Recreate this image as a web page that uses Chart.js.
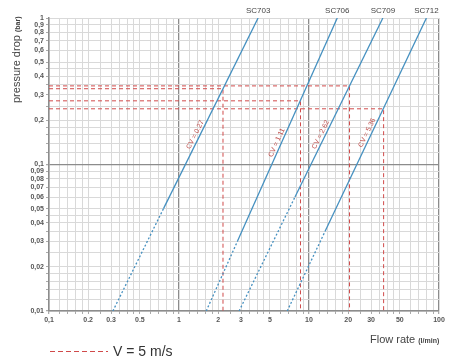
<!DOCTYPE html>
<html>
<head>
<meta charset="utf-8">
<script src="https://cdn.jsdelivr.net/npm/chart.js@4"></script>
<style>html,body{margin:0;padding:0;background:#fff}</style>
</head>
<body>
<canvas id="chart" width="454" height="360"></canvas>
<script>
// models and their CV values
const models = ['SC703', 'SC706', 'SC709', 'SC712'];
const cvLabels = ['CV = 0.27', 'CV = 1.11', 'CV = 2.62', 'CV = 5.36'];

// flow (l/min) at 0.01 bar, where the solid part starts, and at 1 bar
const flowAtMin = [0.31, 1.62, 2.9, 6.8];
const flowSolidFrom = [0.76, 2.82, 7.8, 13.3];
const dropSolidFrom = [0.05, 0.03, 0.06, 0.035];
const flowAtMax = [4.06, 16.5, 37, 80];

// V = 5 m/s points
const v5Flow = [2.18, 8.6, 20.5, 37.5];
const v5Drop = [0.329, 0.272, 0.344, 0.24];
const cvLabelDrop = [0.155, 0.137, 0.155, 0.16];

const flowMin = 0.1, flowMax = 100, dropMin = 0.01, dropMax = 1;
const gridSteps = [1, 1.2, 1.4, 1.6, 1.8, 2, 2.5, 3, 3.5, 4, 4.5, 5, 6, 7, 8, 9];
const xLabeled = [0.1, 0.2, 0.3, 0.5, 1, 2, 3, 5, 10, 20, 30, 50, 100];
const yLabeled = [1, 0.9, 0.8, 0.7, 0.6, 0.5, 0.4, 0.3, 0.2, 0.1, 0.09, 0.08, 0.07, 0.06, 0.05, 0.04, 0.03, 0.02, 0.01];

const BLUE = '#4590c0';
const RED = '#d04a4a';
const FONT = "'Liberation Sans', Arial, sans-serif";

function gridValues(min, max) {
    const out = [];
    for (let d = min; d < max * 0.999; d *= 10) {
        for (const s of gridSteps) out.push(+(s * d).toPrecision(6));
    }
    out.push(max);
    return out;
}
function isDecade(v) {
    const l = Math.log10(v);
    return Math.abs(l - Math.round(l)) < 1e-6;
}
function xLabel(v) {
    if (!xLabeled.some(l => Math.abs(l - v) < 1e-9)) return '';
    return v === 0.1 ? '0,1' : String(v);
}
function yLabel(v) {
    if (!yLabeled.some(l => Math.abs(l - v) < 1e-9)) return '';
    return String(v).replace('.', ',');
}

const datasets = [];
models.forEach((m, i) => {
    datasets.push({
        label: m,
        data: [
            {x: flowAtMin[i], y: dropMin},
            {x: flowSolidFrom[i], y: dropSolidFrom[i]},
            {x: flowAtMax[i], y: dropMax}
        ],
        borderColor: BLUE,
        borderWidth: 1.3,
        pointRadius: 0,
        showLine: true,
        order: 0,
        segment: {borderDash: ctx => ctx.p0DataIndex === 0 ? [2, 2] : []}
    });
    datasets.push({
        label: 'V = 5 m/s',
        data: [
            {x: flowMin, y: v5Drop[i]},
            {x: v5Flow[i], y: v5Drop[i]},
            {x: v5Flow[i], y: dropMin}
        ],
        borderColor: RED,
        borderWidth: 1,
        borderDash: [4, 3],
        pointRadius: 0,
        showLine: true,
        order: 1
    });
});

const textPlugin = {
    id: 'texts',
    afterDraw(chart) {
        const ctx = chart.ctx;
        const xs = chart.scales.x, ys = chart.scales.y;
        ctx.save();

        // model names above the lines
        ctx.fillStyle = '#444';
        ctx.font = '8px ' + FONT;
        ctx.textAlign = 'center';
        ctx.textBaseline = 'alphabetic';
        models.forEach((m, i) => {
            ctx.fillText(m, xs.getPixelForValue(flowAtMax[i]), ys.top - 5);
        });

        // CV labels along each line
        ctx.fillStyle = '#c0504d';
        ctx.font = '7px ' + FONT;
        models.forEach((m, i) => {
            const x0 = xs.getPixelForValue(flowAtMin[i]), y0 = ys.getPixelForValue(dropMin);
            const x1 = xs.getPixelForValue(flowAtMax[i]), y1 = ys.getPixelForValue(dropMax);
            const py = ys.getPixelForValue(cvLabelDrop[i]);
            const t = (py - y0) / (y1 - y0);
            const px = x0 + t * (x1 - x0);
            ctx.save();
            ctx.translate(px, py);
            ctx.rotate(Math.atan2(y1 - y0, x1 - x0));
            ctx.fillText(cvLabels[i], 0, -2.5);
            ctx.restore();
        });

        // y axis title
        ctx.save();
        ctx.translate(20, 103);
        ctx.rotate(-Math.PI / 2);
        ctx.textAlign = 'left';
        ctx.fillStyle = '#444';
        ctx.font = '11px ' + FONT;
        ctx.fillText('pressure drop', 0, 0);
        const w = ctx.measureText('pressure drop ').width;
        ctx.font = 'bold 7px ' + FONT;
        ctx.fillText('(bar)', w, 0);
        ctx.restore();

        // x axis title
        ctx.textAlign = 'left';
        ctx.fillStyle = '#444';
        ctx.font = '11px ' + FONT;
        ctx.fillText('Flow rate', 370, 343);
        const w2 = ctx.measureText('Flow rate ').width;
        ctx.font = 'bold 7px ' + FONT;
        ctx.fillText('(l/min)', 370 + w2, 343);

        // legend
        ctx.strokeStyle = RED;
        ctx.lineWidth = 1;
        ctx.setLineDash([5, 3]);
        ctx.beginPath();
        ctx.moveTo(50, 351.5);
        ctx.lineTo(108, 351.5);
        ctx.stroke();
        ctx.setLineDash([]);
        ctx.fillStyle = '#333';
        ctx.font = '14px ' + FONT;
        ctx.fillText('V = 5 m/s', 113, 356);

        ctx.restore();
    }
};

new Chart(document.getElementById('chart'), {
    type: 'scatter',
    data: {datasets},
    options: {
        responsive: false,
        animation: false,
        devicePixelRatio: 1,
        layout: {padding: {left: 0, right: 15, top: 18, bottom: 29}},
        plugins: {legend: {display: false}, tooltip: {enabled: false}},
        scales: {
            x: {
                type: 'logarithmic',
                min: flowMin,
                max: flowMax,
                afterBuildTicks: s => { s.ticks = gridValues(flowMin, flowMax).map(v => ({value: v})); },
                afterFit: s => { s.height = 20; },
                ticks: {
                    autoSkip: false, maxRotation: 0, padding: 2,
                    color: '#555', font: {family: FONT, size: 7, weight: 'bold'},
                    callback: v => xLabel(v)
                },
                grid: {
                    color: c => isDecade(c.tick.value) ? '#8c8c8c' : '#d9d9d9',
                    lineWidth: c => isDecade(c.tick.value) ? 1.3 : 1,
                    tickLength: 3,
                    tickColor: '#aaa'
                },
                border: {color: '#8c8c8c', width: 1.5}
            },
            y: {
                type: 'logarithmic',
                min: dropMin,
                max: dropMax,
                afterBuildTicks: s => { s.ticks = gridValues(dropMin, dropMax).map(v => ({value: v})); },
                afterFit: s => { s.width = 49; },
                ticks: {
                    autoSkip: false, padding: 2,
                    color: '#555', font: {family: FONT, size: 7, weight: 'bold'},
                    callback: v => yLabel(v)
                },
                grid: {
                    color: c => (isDecade(c.tick.value) && c.tick.value < 1) ? '#8c8c8c' : '#d9d9d9',
                    lineWidth: c => (isDecade(c.tick.value) && c.tick.value < 1) ? 1.3 : 1,
                    tickLength: 3,
                    tickColor: '#aaa'
                },
                border: {color: '#8c8c8c', width: 1.5}
            }
        }
    },
    plugins: [textPlugin]
});
</script>
</body>
</html>
